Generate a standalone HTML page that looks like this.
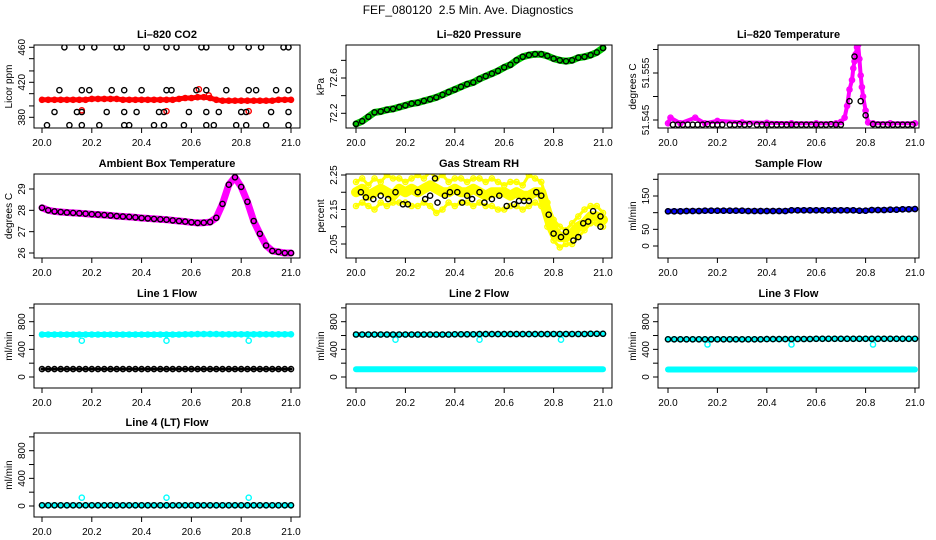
<!DOCTYPE html>
<html><head><meta charset="utf-8"><style>
body{margin:0;background:#fff}
svg{display:block;font-family:"Liberation Sans",sans-serif}
</style></head><body>
<svg id="c" width="936" height="540" viewBox="0 0 936 540">
<text x="468" y="14" text-anchor="middle" font-size="12" style="white-space:pre">FEF_080120  2.5 Min. Ave. Diagnostics</text>
</svg>
<script>
// ---- data ----
const X41=[20.000,20.025,20.050,20.075,20.100,20.125,20.150,20.175,20.200,20.225,20.250,20.275,20.300,20.325,20.350,20.375,20.400,20.425,20.450,20.475,20.500,20.525,20.550,20.575,20.600,20.625,20.650,20.675,20.700,20.725,20.750,20.775,20.800,20.825,20.850,20.875,20.900,20.925,20.950,20.975,21.000];
const xTicks=[20.0,20.2,20.4,20.6,20.8,21.0];
const xTickLabels=["20.0","20.2","20.4","20.6","20.8","21.0"];
// CO2
const co2Red=[400,400,400,400,400,400,400,400,401,401,401,401,401,400,400,400,400,400,400,400,400,400,401,402,402,403,403,402,400,399,399,399,399,399,399,399,399,399,400,400,400];
const co2BlkX=[20.09,20.16,20.21,20.30,20.32,20.42,20.50,20.54,20.64,20.66,20.76,20.83,20.88,20.97,20.99,20.07,20.16,20.19,20.28,20.33,20.40,20.50,20.52,20.62,20.66,20.74,20.83,20.86,20.94,20.99,20.05,20.14,20.16,20.26,20.33,20.38,20.47,20.49,20.59,20.66,20.71,20.80,20.82,20.92,20.99,20.02,20.11,20.16,20.23,20.33,20.35,20.45,20.49,20.57,20.66,20.69,20.78,20.82,20.90,20.99];
const co2BlkY=[460,460,460,460,460,460,460,460,460,460,460,460,460,460,460,411,411,411,411,411,411,411,411,411,411,411,411,411,411,411,386,386,386,386,386,386,386,386,386,386,386,386,386,386,386,371,371,371,371,371,371,371,371,371,371,371,371,371,371,371];
const co2OutX=[20.16,20.50,20.63,20.67,20.83];
const co2OutY=[388,387,412,405,387];
// Pressure
const pres=[72.08,72.11,72.16,72.21,72.22,72.24,72.25,72.27,72.29,72.31,72.32,72.34,72.36,72.38,72.41,72.44,72.47,72.50,72.53,72.55,72.59,72.62,72.65,72.68,72.72,72.75,72.80,72.84,72.86,72.87,72.87,72.85,72.82,72.80,72.79,72.80,72.83,72.84,72.86,72.89,72.94];
// Li-820 Temperature
const tMagX=[20.0,20.01,20.05,20.11,20.15,20.2,20.3,20.4,20.5,20.6,20.68,20.70,20.715,20.725,20.735,20.745,20.75,20.755,20.76,20.765,20.77,20.775,20.78,20.785,20.79,20.80,20.81,20.83,20.9,21.0];
const tMagY=[51.5443,51.5455,51.5443,51.5455,51.5443,51.5448,51.5445,51.5444,51.5443,51.5443,51.5443,51.5446,51.5455,51.5480,51.5515,51.5535,51.5560,51.5575,51.5590,51.5605,51.5610,51.5580,51.5545,51.5520,51.5500,51.5470,51.5445,51.5443,51.5443,51.5443];
const tBlkX=[20.02,20.04,20.06,20.08,20.10,20.12,20.14,20.16,20.18,20.20,20.22,20.25,20.27,20.29,20.31,20.33,20.36,20.38,20.40,20.42,20.44,20.46,20.48,20.5,20.52,20.54,20.56,20.58,20.60,20.62,20.64,20.66,20.68,20.70,20.735,20.755,20.78,20.80,20.83,20.85,20.87,20.89,20.91,20.93,20.95,20.97,20.99];
const tBlkY=[51.5440,51.5440,51.5440,51.5440,51.5440,51.5440,51.5440,51.5441,51.5440,51.5440,51.5440,51.5440,51.5440,51.5441,51.5440,51.5441,51.5440,51.5440,51.5440,51.5440,51.5440,51.5440,51.5440,51.5440,51.5440,51.5440,51.5440,51.5440,51.5440,51.5440,51.5440,51.5441,51.5440,51.5440,51.5490,51.5585,51.5490,51.5460,51.5441,51.5440,51.5440,51.5440,51.5440,51.5440,51.5440,51.5440,51.5440];
// Ambient box temperature
const amb=[28.12,28.0,27.95,27.92,27.9,27.88,27.86,27.84,27.82,27.8,27.78,27.76,27.73,27.71,27.69,27.67,27.64,27.62,27.6,27.58,27.56,27.53,27.5,27.47,27.44,27.41,27.42,27.45,27.65,28.3,29.2,29.55,29.1,28.4,27.5,26.9,26.35,26.1,26.05,26.0,26.0];
// Gas stream RH
const rhMid=[2.20,2.21,2.19,2.20,2.21,2.20,2.19,2.21,2.20,2.21,2.20,2.21,2.22,2.21,2.20,2.20,2.21,2.20,2.20,2.21,2.20,2.19,2.20,2.20,2.20,2.19,2.20,2.19,2.19,2.20,2.20,2.14,2.09,2.07,2.07,2.08,2.10,2.11,2.13,2.13,2.12];
const rhHi=[2.23,2.24,2.22,2.24,2.23,2.25,2.24,2.24,2.23,2.24,2.25,2.24,2.26,2.24,2.25,2.23,2.24,2.24,2.23,2.24,2.24,2.23,2.24,2.23,2.22,2.23,2.23,2.22,2.25,2.24,2.23,2.17,2.12,2.10,2.09,2.11,2.13,2.15,2.16,2.16,2.14];
const rhLo=[2.16,2.17,2.16,2.15,2.17,2.16,2.17,2.17,2.17,2.16,2.16,2.17,2.16,2.14,2.15,2.17,2.16,2.17,2.17,2.16,2.17,2.16,2.16,2.15,2.15,2.16,2.16,2.15,2.16,2.17,2.16,2.10,2.06,2.04,2.05,2.05,2.07,2.09,2.11,2.11,2.10];
const rhBlkX=[20.02,20.04,20.07,20.10,20.13,20.16,20.19,20.21,20.25,20.28,20.30,20.32,20.33,20.36,20.38,20.41,20.43,20.45,20.47,20.50,20.52,20.55,20.58,20.61,20.64,20.66,20.68,20.70,20.73,20.75,20.78,20.80,20.83,20.85,20.88,20.90,20.92,20.94,20.96,20.99,20.99];
const rhBlkY=[2.20,2.185,2.18,2.19,2.18,2.20,2.165,2.165,2.20,2.18,2.19,2.24,2.17,2.19,2.20,2.20,2.17,2.19,2.18,2.20,2.17,2.18,2.19,2.16,2.165,2.175,2.175,2.175,2.20,2.19,2.135,2.08,2.07,2.085,2.06,2.07,2.11,2.115,2.145,2.13,2.10];
// Sample flow
const sfBlue=[104,104,104,105,105,105,106,106,106,106,106,106,106,105,105,105,105,105,105,105,107,107,107,107,107,107,107,107,107,107,107,106,106,108,108,108,109,109,110,110,111];
// Line flows
const dipX=[20.16,20.50,20.83];
const l1Cyan=[615,615,615,615,615,615,615,615,615,615,615,615,615,615,615,615,615,615,615,615,615,615,615,618,618,620,620,620,620,618,618,618,618,618,618,618,618,618,618,618,618];
const l1Blk=[115,115,115,115,115,115,115,115,115,115,115,115,115,115,115,115,115,115,115,115,115,115,115,115,115,115,115,115,115,115,115,115,115,115,115,115,115,115,115,115,115];
const l1Dip=[525,525,525];
const l2Blk=[615,615,615,615,615,615,615,615,615,615,615,615,615,615,615,615,618,618,618,618,620,620,620,620,620,620,620,620,620,620,620,620,622,622,622,622,622,622,625,625,625];
const l2Cyan=[112,112,112,112,112,112,112,112,112,112,112,112,112,112,112,112,112,112,112,112,112,112,112,112,112,112,112,112,112,112,112,112,112,112,112,112,112,112,112,112,112];
const l2Dip=[540,540,540];
const l3Blk=[545,545,545,545,545,545,545,545,545,545,545,545,545,545,545,545,548,548,548,548,550,550,550,550,552,552,552,552,552,552,552,552,552,552,552,552,552,552,552,552,552];
const l3Cyan=[108,108,108,108,108,108,108,108,108,108,108,108,108,108,108,108,108,108,108,108,108,108,108,108,108,108,108,108,108,108,108,108,108,108,108,108,108,108,108,108,108];
const l3Dip=[470,470,470];
const l4Blk=[10,10,10,10,10,10,10,10,10,10,10,10,10,10,10,10,10,10,10,10,10,10,10,10,10,10,10,10,10,10,10,10,10,10,10,10,10,10,10,10,10];
const l4Spike=[120,120,120];

// ---- layout ----
const cols=[{l:34,r:300,x0:42,x1:291},{l:346,r:612,x0:356,x1:603},{l:658,r:919,x0:668,x1:915}];
const rows=[{t:45,b:128},{t:174,b:258},{t:304,b:388},{t:433,b:517}];
const NS="http://www.w3.org/2000/svg";
const svg=document.getElementById('c');
function mk(tag,attrs,parent){const e=document.createElementNS(NS,tag);for(const k in attrs)e.setAttribute(k,attrs[k]);(parent||svg).appendChild(e);return e;}

function panel(cfg){
  const C=cols[cfg.col],R=rows[cfg.row];
  const g=mk('g',{});
  
  
  const xs=v=>C.x0+(v-20)*(C.x1-C.x0);
  const ys=v=>cfg.py1+(v-cfg.v1)*(cfg.py2-cfg.py1)/(cfg.v2-cfg.v1);
  const clip='clip'+cfg.name;
  const cp=mk('clipPath',{id:clip},g);
  mk('rect',{x:C.l,y:R.t,width:C.r-C.l,height:R.b-R.t},cp);
  const pg=mk('g',{'clip-path':'url(#'+clip+')'},g);
  cfg.series.forEach(s=>{
    const sg=mk('g',{},pg);
    
    
    if(s.band){
      const pts=s.x.map((x,i)=>xs(x).toFixed(1)+','+ys(s.y[i]).toFixed(1)).join(' ');
      mk('polyline',{points:pts,fill:'none',stroke:s.color,'stroke-width':s.band,'stroke-linejoin':'round','stroke-linecap':'round'},sg);
    }
    if(s.pts!==false){
      s.x.forEach((x,i)=>{
        const c=mk('circle',{cx:xs(x).toFixed(1),cy:ys(s.y[i]).toFixed(1),r:2.6,fill:'none',stroke:s.color,'stroke-width':1.4},sg);
        
        
      });
    }
  });
  const box=mk('rect',{x:C.l,y:R.t,width:C.r-C.l,height:R.b-R.t,fill:'none',stroke:'#000','stroke-width':1},g);
  
  
  const t=mk('text',{x:(C.l+C.r)/2,y:R.t-7,'text-anchor':'middle','font-size':11,'font-weight':'bold'},g);
  t.textContent=cfg.title;
  
  
  const xa=mk('g',{},g);
  
  
  xTicks.forEach((v,i)=>{
    mk('line',{x1:xs(v),x2:xs(v),y1:R.b,y2:R.b+5,stroke:'#000'},xa);
    const l=mk('text',{x:xs(v),y:R.b+18,'text-anchor':'middle','font-size':10},xa);
    l.textContent=xTickLabels[i];
  });
  const ya=mk('g',{},g);
  
  
  cfg.yt.forEach(v=>{const y=ys(v);mk('line',{x1:C.l-5,x2:C.l,y1:y,y2:y,stroke:'#000'},ya);});
  cfg.yl.forEach(v=>{const y=ys(v);const l=mk('text',{x:0,y:0,'text-anchor':'middle','font-size':10,transform:`translate(${C.l-9},${y}) rotate(-90)`},ya);l.textContent=cfg.fmt?cfg.fmt(v):String(v);});
  const yl=mk('text',{x:0,y:0,'text-anchor':'middle','font-size':10,transform:`translate(${C.l-22},${(R.t+R.b)/2}) rotate(-90)`},g);
  yl.textContent=cfg.ylab;
  
  
}
panel({name:'co2-panel',col:0,row:0,title:'Li\u2013820 CO2',ylab:'Licor ppm',v1:460,py1:47.3,v2:380,py2:117.3,yt:[380,393,407,420,433,447,460],yl:[380,420,460],
 series:[{name:'co2-red',x:X41,y:co2Red,color:'#f00',band:5},{name:'co2-outliers',x:co2OutX,y:co2OutY,color:'#f00'},{name:'co2-black',x:co2BlkX,y:co2BlkY,color:'#000'}]});
panel({name:'pressure-panel',col:1,row:0,title:'Li\u2013820 Pressure',ylab:'kPa',v1:72.2,py1:113.3,v2:72.6,py2:78,yt:[72.2,72.4,72.6,72.8],yl:[72.2,72.6],fmt:v=>v.toFixed(1),
 series:[{name:'pressure-green',x:X41,y:pres,color:'#0c0',band:7},{name:'pressure-black',x:X41,y:pres,color:'#000'}]});
panel({name:'temperature-panel',col:2,row:0,title:'Li\u2013820 Temperature',ylab:'degrees C',v1:51.545,py1:120,v2:51.555,py2:73,yt:[51.545,51.55,51.555,51.56],yl:[51.545,51.555],fmt:v=>v.toFixed(3),
 series:[{name:'temp-magenta',x:tMagX,y:tMagY,color:'#f0f',band:4},{name:'temp-black',x:tBlkX,y:tBlkY,color:'#000'}]});
panel({name:'ambient-panel',col:0,row:1,title:'Ambient Box Temperature',ylab:'degrees C',v1:29,py1:189,v2:26,py2:253,yt:[26,27,28,29],yl:[26,27,28,29],
 series:[{name:'ambient-magenta',x:X41,y:amb,color:'#f0f',band:7},{name:'ambient-black',x:X41,y:amb,color:'#000'}]});
panel({name:'rh-panel',col:1,row:1,title:'Gas Stream RH',ylab:'percent',v1:2.25,py1:175,v2:2.05,py2:244,yt:[2.05,2.1,2.15,2.2,2.25],yl:[2.05,2.15,2.25],fmt:v=>v.toFixed(2),
 series:[{name:'rh-yellow-hi',x:X41,y:rhHi,color:'#ff0',band:3},{name:'rh-yellow-lo',x:X41,y:rhLo,color:'#ff0',band:3},{name:'rh-yellow-mid',x:X41,y:rhMid,color:'#ff0',band:10},{name:'rh-black',x:rhBlkX,y:rhBlkY,color:'#000'}]});
panel({name:'sample-flow-panel',col:2,row:1,title:'Sample Flow',ylab:'ml/min',v1:0,py1:246,v2:150,py2:196,yt:[0,50,100,150,200],yl:[0,50,150],
 series:[{name:'sample-blue',x:X41,y:sfBlue,color:'#00f',band:5},{name:'sample-black',x:X41,y:sfBlue,color:'#000'}]});
function flowCfg(name,col,row,title,series){const t=rows[row].t;return {name,col,row,title,ylab:'ml/min',v1:0,py1:t+73,v2:800,py2:t+17.7,yt:[0,200,400,600,800,1000],yl:[0,400,800],series};}
panel(flowCfg('line1-panel',0,2,'Line 1 Flow',[{name:'line1-cyan',x:X41,y:l1Cyan,color:'#0ff',band:5},{name:'line1-dips',x:dipX,y:l1Dip,color:'#0ff'},{name:'line1-black',x:X41,y:l1Blk,color:'#000',band:3}]));
panel(flowCfg('line2-panel',1,2,'Line 2 Flow',[{name:'line2-cyan-band',x:X41,y:l2Cyan,color:'#0ff',band:6,pts:false},{name:'line2-cyan',x:X41,y:l2Blk,color:'#0ff',band:5},{name:'line2-dips',x:dipX,y:l2Dip,color:'#0ff'},{name:'line2-black',x:X41,y:l2Blk,color:'#000'}]));
panel(flowCfg('line3-panel',2,2,'Line 3 Flow',[{name:'line3-cyan-band',x:X41,y:l3Cyan,color:'#0ff',band:6,pts:false},{name:'line3-cyan',x:X41,y:l3Blk,color:'#0ff',band:5},{name:'line3-dips',x:dipX,y:l3Dip,color:'#0ff'},{name:'line3-black',x:X41,y:l3Blk,color:'#000'}]));
panel(flowCfg('line4-panel',0,3,'Line 4 (LT) Flow',[{name:'line4-cyan',x:X41,y:l4Blk,color:'#0ff',band:5},{name:'line4-spikes',x:dipX,y:l4Spike,color:'#0ff'},{name:'line4-black',x:X41,y:l4Blk,color:'#000'}]));
</script>
</body></html>
